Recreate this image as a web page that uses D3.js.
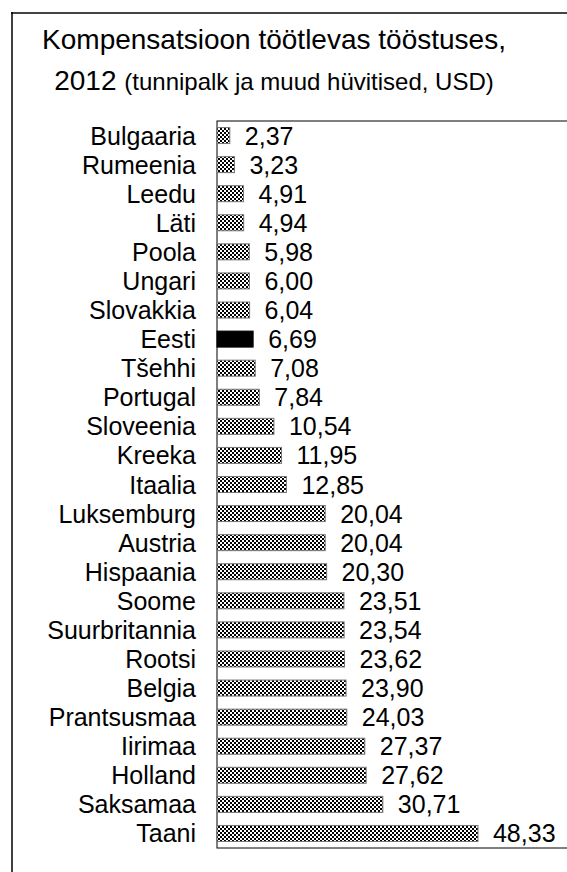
<!DOCTYPE html>
<html>
<head>
<meta charset="utf-8">
<script src="https://cdn.jsdelivr.net/npm/d3@7"></script>
<style>
  body { margin: 0; background: #fff; }
  text { font-family: "Liberation Sans", Arial, sans-serif; fill: #000; }
</style>
</head>
<body>
<svg width="567" height="872"></svg>
<script>
// Riigid ja kompensatsioon (USD tunnis)
const countries = ["Bulgaaria", "Rumeenia", "Leedu", "Läti", "Poola", "Ungari", "Slovakkia", "Eesti",
  "Tšehhi", "Portugal", "Sloveenia", "Kreeka", "Itaalia", "Luksemburg", "Austria", "Hispaania",
  "Soome", "Suurbritannia", "Rootsi", "Belgia", "Prantsusmaa", "Iirimaa", "Holland", "Saksamaa", "Taani"];
const values = [2.37, 3.23, 4.91, 4.94, 5.98, 6.00, 6.04, 6.69, 7.08, 7.84, 10.54, 11.95, 12.85,
  20.04, 20.04, 20.30, 23.51, 23.54, 23.62, 23.90, 24.03, 27.37, 27.62, 30.71, 48.33];
const highlight = ["Eesti"];

const data = countries.map((c, i) => ({ country: c, value: values[i] }));

const svg = d3.select("svg");
const margin = { top: 121, left: 217, bottom: 848 };

// outer frame (runs off the right and bottom edges)
svg.append("line")
   .attr("x1", 11).attr("x2", 600).attr("y1", 13).attr("y2", 13)
   .attr("stroke", "#444").attr("stroke-width", 2);
svg.append("line")
   .attr("x1", 12).attr("x2", 12).attr("y1", 12).attr("y2", 900)
   .attr("stroke", "#000").attr("stroke-width", 1.5);

// title
const title = svg.append("text")
   .attr("text-anchor", "middle");
title.append("tspan").attr("x", 274).attr("y", 49)
     .style("font-size", "28px")
     .text("Kompensatsioon töötlevas tööstuses,");
const t2 = title.append("tspan").attr("x", 274).attr("y", 90);
t2.append("tspan").style("font-size", "28px").text("2012 ");
t2.append("tspan").style("font-size", "24px").text("(tunnipalk ja muud hüvitised, USD)");

// checker pattern for bars
const defs = svg.append("defs");
const pat = defs.append("pattern")
   .attr("id", "checker")
   .attr("patternUnits", "userSpaceOnUse")
   .attr("width", 4).attr("height", 4);
pat.append("rect").attr("width", 4).attr("height", 4).attr("fill", "#fff");
pat.append("rect").attr("width", 2).attr("height", 2).attr("fill", "#000");
pat.append("rect").attr("x", 2).attr("y", 2).attr("width", 2).attr("height", 2).attr("fill", "#000");

const x = d3.scaleLinear()
   .domain([0, 10])
   .range([margin.left, margin.left + 54]);

const y = d3.scaleBand()
   .domain(countries)
   .range([margin.top, margin.bottom])
   .paddingInner(0.45)
   .paddingOuter(0.225);

// plot area box
svg.append("rect")
   .attr("x", margin.left).attr("y", margin.top)
   .attr("width", 500).attr("height", margin.bottom - margin.top)
   .attr("fill", "none")
   .attr("stroke", "#000")
   .attr("stroke-width", 1);

// bars
svg.selectAll(".bar")
   .data(data)
   .enter()
   .append("rect")
   .attr("class", "bar")
   .attr("x", x(0))
   .attr("y", d => y(d.country))
   .attr("width", d => x(d.value) - x(0))
   .attr("height", y.bandwidth())
   .attr("fill", d => highlight.includes(d.country) ? "#000" : "url(#checker)")
   .attr("stroke", d => highlight.includes(d.country) ? "#000" : "#777")
   .attr("stroke-width", 1);

// category labels
svg.selectAll(".cat")
   .data(data)
   .enter()
   .append("text")
   .attr("class", "cat")
   .attr("x", margin.left - 21)
   .attr("y", d => y(d.country) + y.bandwidth() / 2)
   .attr("dy", "0.36em")
   .attr("text-anchor", "end")
   .style("font-size", "25px")
   .text(d => d.country);

// value labels
const fmt = d3.format(".2f");
svg.selectAll(".val")
   .data(data)
   .enter()
   .append("text")
   .attr("class", "val")
   .attr("x", d => x(d.value) + 15)
   .attr("y", d => y(d.country) + y.bandwidth() / 2)
   .attr("dy", "0.36em")
   .style("font-size", "25px")
   .text(d => fmt(d.value).replace(".", ","));
</script>
</body>
</html>
